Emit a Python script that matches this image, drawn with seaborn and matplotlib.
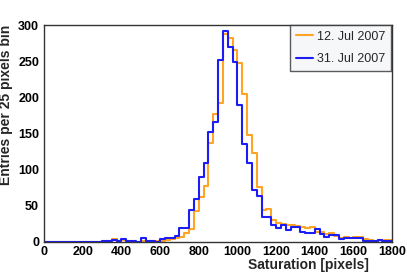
import numpy as np
import pandas as pd
import matplotlib
matplotlib.use("Agg")
import matplotlib.pyplot as plt
from matplotlib.lines import Line2D
from matplotlib.ticker import MultipleLocator
import seaborn as sns

# ── Data: entries per 25-pixel bin, bins from 0 to 1800 ────────────────────
bin_width = 25
x_max = 1800
bin_centers = np.arange(bin_width / 2, x_max, bin_width)

# 12. Jul 2007 (orange)
counts_jul12 = [
    0, 0, 0, 0, 0, 0, 0, 0, 0, 0, 0, 0,            # 0 - 275
    0, 2, 4, 2, 3, 0, 0, 0, 2, 1, 0, 1,            # 300 - 575
    2, 3, 4, 5, 7, 12, 18, 43, 62, 77, 137, 178,   # 600 - 875
    193, 288, 283, 266, 248, 205, 149, 123, 76, 45, 46, 30,  # 900 - 1175
    27, 25, 24, 24, 22, 21, 20, 21, 14, 14, 11, 12,  # 1200 - 1475
    9, 6, 7, 6, 7, 7, 4, 3, 2, 3, 3, 3,            # 1500 - 1775
]

# 31. Jul 2007 (blue)
counts_jul31 = [
    0, 0, 0, 0, 0, 0, 0, 0, 0, 0, 0, 0,
    2, 2, 3, 2, 4, 2, 2, 0, 5, 2, 2, 0,
    4, 6, 6, 8, 20, 20, 44, 59, 90, 109, 153, 167,
    252, 292, 271, 250, 190, 136, 110, 72, 64, 35, 35, 23,
    20, 23, 17, 21, 21, 14, 13, 13, 18, 11, 7, 10,
    10, 4, 6, 5, 6, 5, 2, 2, 1, 3, 1, 1,
]

labels = ["12. Jul 2007", "31. Jul 2007"]
colors = ["#ffa424", "#1c1cf5"]

# ── Style ──────────────────────────────────────────────────────────────────
sns.set_theme(style="white")
plt.rcParams["font.family"] = ["Liberation Sans", "DejaVu Sans"]

fig = plt.figure(figsize=(4.07, 2.76), dpi=100)
ax = fig.add_axes([44 / 407, 34 / 276, 348 / 407, 217 / 276])

for counts, color in zip([counts_jul12, counts_jul31], colors):
    df = pd.DataFrame({"saturation": bin_centers, "entries": counts})
    sns.histplot(
        data=df, x="saturation", weights="entries",
        binwidth=bin_width, binrange=(0, x_max),
        element="step", fill=False, color=color, linewidth=1.5, ax=ax,
    )

ax.set_xlim(0, x_max)
ax.set_ylim(0, 301)

# ROOT-like ticks: inside, bottom/left only
ax.xaxis.set_major_locator(MultipleLocator(200))
ax.xaxis.set_minor_locator(MultipleLocator(50))
ax.yaxis.set_major_locator(MultipleLocator(50))
ax.yaxis.set_minor_locator(MultipleLocator(10))
ax.tick_params(which="both", direction="in", top=False, right=False,
               colors="#333333", labelcolor="black")
ax.tick_params(which="major", length=8, width=1)
ax.tick_params(which="minor", length=4, width=1)
ax.tick_params(axis="x", which="major", labelsize=9, pad=3)
ax.tick_params(axis="y", which="major", labelsize=9, pad=3.5)
for lab in ax.get_xticklabels() + ax.get_yticklabels():
    lab.set_fontweight("bold")

for side in ["top", "right", "bottom", "left"]:
    ax.spines[side].set_color("#333333")
    ax.spines[side].set_linewidth(1)

ax.set_xlabel("Saturation [pixels]", fontsize=10, fontweight="bold", loc="right")
ax.xaxis.set_label_coords(0.934, -0.072)
ax.set_ylabel("Entries per 25 pixels bin", fontsize=10, fontweight="bold", loc="top")
ax.yaxis.set_label_coords(-0.088, 1.0)

handles = [Line2D([], [], color=c, linewidth=1.5) for c in colors]
leg = ax.legend(
    handles, labels, loc="upper right", bbox_to_anchor=(0.997, 1.0),
    fontsize=9, frameon=True, fancybox=False, borderaxespad=0,
    handlelength=1.4, handletextpad=0.3, borderpad=0.45, labelspacing=0.85,
)
leg.get_frame().set_edgecolor("#333333")
leg.get_frame().set_facecolor("#f4f6f8")
leg.get_frame().set_linewidth(1)

fig.savefig("out.png", dpi=100)
